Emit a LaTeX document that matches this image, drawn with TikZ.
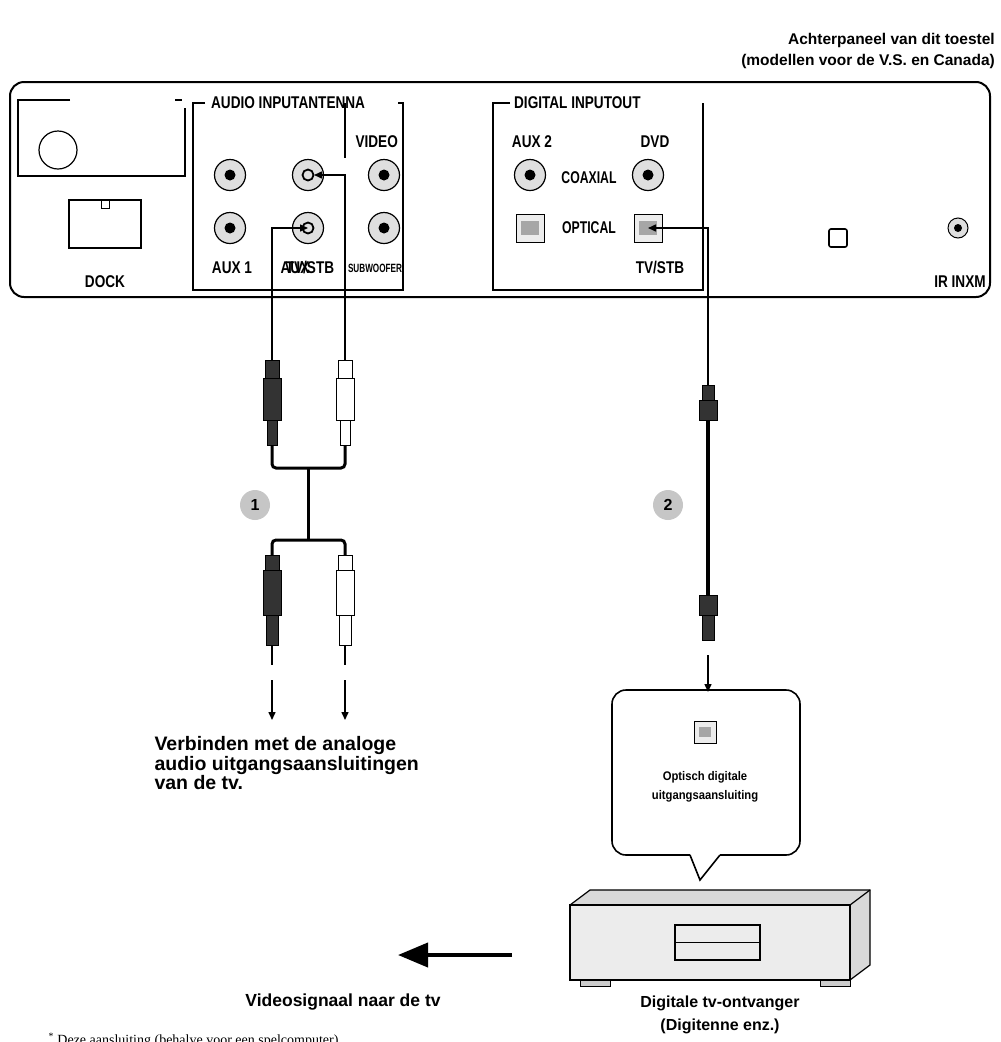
\documentclass[tikz,border=0pt]{standalone}
\usepackage{fontspec}
\setmainfont{Liberation Sans}
\newfontfamily\serifx{Liberation Serif}
\usetikzlibrary{arrows.meta,calc}
\begin{document}
\begin{tikzpicture}[x=1pt,y=-1pt,
 lab/.style={font=\bfseries\fontsize{15.5}{16}\selectfont,inner sep=0pt},
 plab/.style={font=\bfseries\fontsize{17}{18}\selectfont,inner sep=0pt,xscale=0.8},
 slab/.style={font=\bfseries\fontsize{12}{13}\selectfont,inner sep=0pt,xscale=0.68},
 jack/.style={circle,draw,fill=gray!25,minimum size=31pt,inner sep=0pt,line width=1.2pt},
 opt/.style={draw,fill=gray!15,minimum size=28pt,inner sep=0pt,line width=1pt},
 wire/.style={line width=1.3pt},
 tip/.style={-{Triangle[length=8pt,width=7pt]},line width=1.5pt},
 num/.style={circle,fill=gray!45,minimum size=30pt,inner sep=0pt,font=\bfseries\fontsize{16}{16}\selectfont}]
\useasboundingbox (0,0) rectangle (1001,1042);
\clip (0,0) rectangle (1001,1042);
% title
\node[lab,anchor=east] (t1) at (995,40) {Achterpaneel van dit toestel};
\node[lab,anchor=east] (t2) at (995,61) {(modellen voor de V.S. en Canada)};
% panel
\draw[line width=2pt,rounded corners=14pt] (10,82) rectangle (990,297);
% top-left
\draw[line width=2pt] (70,100) -- (18,100) -- (18,176) -- (185,176) -- (185,108);
\draw[line width=2pt] (175,100) -- (182,100);
\draw[line width=1.2pt] (58,150) circle (19);
\node[draw,line width=1.2pt,minimum width=72pt,minimum height=48pt] (dock) at (105,224) {};
\draw[line width=1pt] (101,200) rectangle (109,208);
\node[plab] (docklab) at (105,282) {DOCK};
% audio box
\draw[line width=1.6pt] (205,103) -- (193,103) -- (193,290) -- (403,290) -- (403,103) -- (398,103);
\node[plab,anchor=west] (ail) at (211,103) {AUDIO INPUTANTENNA};
\draw[line width=1.4pt] (345,103) -- (345,158);
\node[plab,anchor=east] (vid) at (398,142) {VIDEO};
\node[jack] (j1) at (230,175) {}; \fill (j1) circle (5.5);
\node[jack] (j2) at (308,175) {}; \draw[line width=1.8pt] (j2) circle (5.5);
\node[jack] (j3) at (384,175) {}; \fill (j3) circle (5.5);
\node[jack] (j4) at (230,228) {}; \fill (j4) circle (5.5);
\node[jack] (j5) at (308,228) {}; \draw[line width=1.8pt] (j5) circle (5.5);
\node[jack] (j6) at (384,228) {}; \fill (j6) circle (5.5);
\node[plab] (a1) at (232,268) {AUX 1};
\node[plab] (a2) at (295,268) {AUX};
\node[plab] (a3) at (310,268) {TV/STB};
\node[slab] (sw) at (375,268) {SUBWOOFER};
% digital box
\draw[line width=1.6pt] (510,103) -- (493,103) -- (493,290) -- (703,290) -- (703,103);
\node[plab,anchor=west] (dil) at (514,103) {DIGITAL INPUTOUT};
\node[plab] (ax2) at (532,142) {AUX 2};
\node[plab] (dvd) at (655,142) {DVD};
\node[jack] (c1) at (530,175) {}; \fill (c1) circle (5.5);
\node[jack] (c2) at (648,175) {}; \fill (c2) circle (5.5);
\node[plab,xscale=0.9] (coax) at (589,178) {COAXIAL};
\node[opt] (o1) at (530,228) {}; \fill[gray!70] ($(o1)+(-9,-7)$) rectangle ($(o1)+(9,7)$);
\node[opt] (o2) at (648,228) {}; \fill[gray!70] ($(o2)+(-9,-7)$) rectangle ($(o2)+(9,7)$);
\node[plab,xscale=0.9] (optl) at (589,228) {OPTICAL};
\node[plab] (tvs) at (660,268) {TV/STB};
\node[draw,line width=1.6pt,rounded corners=2pt,minimum size=18pt,inner sep=0pt] (sq) at (838,238) {};
\node[circle,draw,fill=gray!25,minimum size=20pt,inner sep=0pt,line width=1pt] (ir) at (958,228) {}; \fill (ir) circle (4);
\node[plab] (irl) at (960,282) {IR INXM};
% cable 1
\coordinate (p1) at (272,360); \coordinate (p2) at (345,360);
\draw[tip] (p1) -- (272,228) -- (j5.center);
\draw[tip] (p2) -- (345,175) -- ($(j2.center)+(6,0)$);
\foreach \x/\c in {272/black!80,345/white}{
 \draw[line width=1pt,fill=\c] (\x-7,360) rectangle (\x+7,378);
 \draw[line width=1pt,fill=\c] (\x-9,378) rectangle (\x+9,420);
 \draw[line width=1pt,fill=\c] (\x-5,420) rectangle (\x+5,445);
 \draw[line width=1pt,fill=\c] (\x-7,555) rectangle (\x+7,570);
 \draw[line width=1pt,fill=\c] (\x-9,570) rectangle (\x+9,615);
 \draw[line width=1pt,fill=\c] (\x-6,615) rectangle (\x+6,645);
 \draw[line width=1.2pt] (\x,645) -- (\x,665);
 \draw[tip] (\x,680) -- (\x,720);
}
\draw[line width=3pt,rounded corners=4pt] (272,445) -- (272,468) -- (345,468) -- (345,445);
\draw[line width=3pt] (308,468) -- (308,540);
\draw[line width=3pt,rounded corners=4pt] (272,555) -- (272,540) -- (345,540) -- (345,555);
\node[num] (n1) at (255,505) {1};
% cable 2
\draw[tip] (708,385) -- (708,228) -- (o2.center);
\draw[line width=1pt,fill=black!80] (702,385) rectangle (714,400);
\draw[line width=1pt,fill=black!80] (699,400) rectangle (717,420);
\draw[line width=4pt] (708,420) -- (708,595);
\draw[line width=1pt,fill=black!80] (699,595) rectangle (717,615);
\draw[line width=1pt,fill=black!80] (702,615) rectangle (714,640);
\node[num] (n2) at (668,505) {2};
\draw[tip] (708,655) -- (708,692);
% callout
\draw[line width=1.6pt,rounded corners=14pt] (690,855) -- (612,855) -- (612,690) -- (800,690) -- (800,855) -- (720,855);
\draw[line width=1.6pt] (690,855) -- (700,880) -- (720,855);
\node[opt,minimum size=22pt] (oc) at (705,732) {}; \fill[gray!70] ($(oc)+(-6,-5)$) rectangle ($(oc)+(6,5)$);
\node[font=\bfseries\fontsize{12.5}{19}\selectfont,align=center,xscale=0.9] (ocl) at (705,787) {Optisch digitale\\uitgangsaansluiting};
% device
\draw[line width=1.2pt,fill=gray!30] (570,905) -- (590,890) -- (870,890) -- (870,965) -- (850,980) -- (570,980) -- cycle;
\draw[line width=1.2pt,fill=gray!15] (570,905) rectangle (850,980);
\draw[line width=1.2pt] (850,905) -- (870,890);
\draw[line width=1.2pt] (675,925) rectangle (760,960); \draw[line width=1pt] (675,942) -- (760,942);
\draw[line width=1pt,fill=gray!40] (580,980) rectangle (610,986);
\draw[line width=1pt,fill=gray!40] (820,980) rectangle (850,986);
\node[font=\bfseries\fontsize{16}{23}\selectfont,align=center] (dev) at (720,1015) {Digitale tv-ontvanger\\(Digitenne enz.)};
% video arrow
\coordinate (va) at (512,955); \coordinate (vb) at (398,955);
\draw[line width=4pt,-{Triangle[length=30pt,width=24pt]}] (va) -- (vb);
\node[font=\bfseries\fontsize{17.5}{18}\selectfont] (vl) at (343,1002) {Videosignaal naar de tv};
\node[font=\bfseries\fontsize{19.5}{19.5}\selectfont,align=left,anchor=north west] (vt) at (151,733) {Verbinden met de analoge\\audio uitgangsaansluitingen\\van de tv.};
\node[font=\serifx\fontsize{14}{14}\selectfont,anchor=west] (fn) at (45,1040) {\textsuperscript{*} Deze aansluiting (behalve voor een spelcomputer)};
\end{tikzpicture}
\end{document}
